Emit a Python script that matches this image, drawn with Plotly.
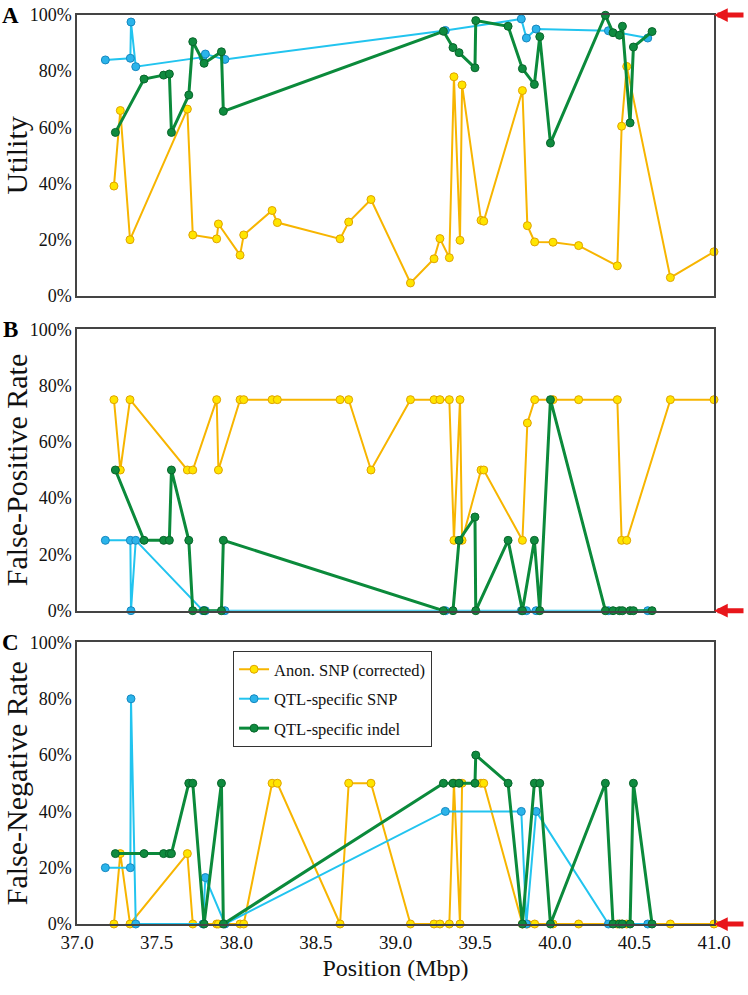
import plotly.graph_objects as go

# ---------------- data ----------------
anon_x = [37.232, 37.272, 37.333, 37.693, 37.727, 37.877, 37.888, 38.024, 38.047, 38.225,
          38.258, 38.652, 38.706, 38.846, 39.094, 39.242, 39.279, 39.338, 39.367, 39.405,
          39.418, 39.537, 39.554, 39.797, 39.828, 39.874, 39.989, 40.150, 40.393, 40.420,
          40.452, 40.726, 41.0]
anon_util = [39.1, 66, 20, 66.5, 21.7, 20.3, 25.6, 14.5, 21.7, 30.4,
             26.1, 20.3, 26.3, 34.3, 4.6, 13.2, 20.4, 13.6, 78, 19.8,
             75.1, 26.9, 26.6, 73.1, 25, 19.2, 19.1, 17.9, 10.7, 60.4,
             81.7, 6.5, 15.7]
anon_fpr = [75, 50, 75, 50, 50, 75, 50, 75, 75, 75,
            75, 75, 75, 50, 75, 75, 75, 75, 25, 75,
            25, 50, 50, 25, 66.7, 75, 75, 75, 75, 25,
            25, 75, 75]
anon_fnr = [0, 25, 0, 25, 0, 0, 0, 0, 0, 50,
            50, 0, 50, 50, 0, 0, 0, 0, 50, 0,
            50, 50, 50, 0, 0, 0, 0, 0, 0, 0,
            0, 0, 0]

snp_x = [37.178, 37.335, 37.339, 37.369, 37.791, 37.806, 37.929, 39.313, 39.790, 39.822,
         39.883, 40.337, 40.584]
snp_util = [84, 84.6, 97.5, 81.6, 85, 86.1, 84.2, 94.5, 98.6, 91.8, 95, 94.4, 91.8]
snp_fpr = [25, 25, 0, 25, 0, 0, 0, 0, 0, 0, 0, 0, 0]
snp_fnr = [20, 20, 80, 0, 0, 16.5, 0, 40, 40, 0, 40, 0, 0]

indel_x = [37.241, 37.421, 37.544, 37.580, 37.593, 37.702, 37.727, 37.798, 37.907, 37.919,
           39.301, 39.361, 39.399, 39.499, 39.504, 39.707, 39.797, 39.872, 39.906, 39.973,
           40.318, 40.366, 40.406, 40.425, 40.473, 40.494, 40.611]
indel_util = [58.2, 77.2, 78.6, 79, 58.2, 71.5, 90.5, 82.8, 86.9, 65.7,
              94.2, 88.4, 86.6, 81.2, 98, 96, 80.9, 75.3, 92.3, 54.4,
              99.9, 93.7, 92.8, 96, 61.6, 88.6, 94.1]
indel_fpr = [50, 25, 25, 25, 50, 25, 0, 0, 0, 25,
             0, 0, 25, 33.3, 0, 25, 0, 25, 0, 75,
             0, 0, 0, 0, 0, 0, 0]
indel_fnr = [25, 25, 25, 25, 25, 50, 50, 0, 50, 0,
             50, 50, 50, 50, 60, 50, 0, 50, 50, 0,
             50, 0, 0, 0, 0, 50, 0]

series_names = ["Anon. SNP (corrected)", "QTL-specific SNP", "QTL-specific indel"]
panel_titles = ["Utility", "False-Positive Rate", "False-Negative Rate"]
panel_letters = ["A", "B", "C"]
arrow_levels = [100, 0, 0]
x_ticks = [37.0, 37.5, 38.0, 38.5, 39.0, 39.5, 40.0, 40.5, 41.0]
y_ticks = [0, 20, 40, 60, 80, 100]

# ---------------- styling ----------------
SERIF = "Liberation Serif"
styles = [
    dict(line=dict(color="#F7B500", width=2),
         marker=dict(color="#FFE500", size=8, line=dict(color="#E0A300", width=1))),
    dict(line=dict(color="#22C4EF", width=2),
         marker=dict(color="#2BB4EA", size=8, line=dict(color="#1688C0", width=1))),
    dict(line=dict(color="#0B8A3B", width=3),
         marker=dict(color="#0F8B3F", size=8, line=dict(color="#08662B", width=1))),
]

xs = [anon_x, snp_x, indel_x]
panels = [
    [anon_util, snp_util, indel_util],
    [anon_fpr, snp_fpr, indel_fpr],
    [anon_fnr, snp_fnr, indel_fnr],
]

fig = go.Figure()
for p in range(3):
    ax_suffix = "" if p == 0 else str(p + 1)
    for s in range(3):
        fig.add_trace(go.Scatter(
            x=xs[s], y=panels[p][s], mode="lines+markers", name=series_names[s],
            xaxis="x" + ax_suffix, yaxis="y" + ax_suffix,
            line=styles[s]["line"], marker=styles[s]["marker"],
            legendgroup=series_names[s], showlegend=(p == 2),
            cliponaxis=False,
        ))

domains = [[0.691, 1.0], [0.3447, 0.6542], [0.0, 0.3097]]

axis_common = dict(showline=True, mirror=True, linecolor="#444444", linewidth=1.5,
                   showgrid=False, zeroline=False, ticks="", automargin=False)
layout = dict(
    template="none",
    width=748, height=995,
    margin=dict(l=77, r=34, t=15, b=71, autoexpand=False),
    paper_bgcolor="white", plot_bgcolor="white",
    font=dict(family=SERIF, color="#111111"),
    showlegend=True,
    legend=dict(
        x=0.245, y=0.3003, xanchor="left", yanchor="top",
        bgcolor="white", bordercolor="#333333", borderwidth=1,
        font=dict(family=SERIF, size=16.5, color="#111111"),
        itemwidth=30, traceorder="grouped", tracegroupgap=5,
    ),
)
for p in range(3):
    ax_suffix = "" if p == 0 else str(p + 1)
    xa = dict(axis_common, range=[37, 41], tickvals=x_ticks,
              ticktext=[f"{v:.1f}" for v in x_ticks],
              anchor="y" + ax_suffix, domain=[0, 1],
              showticklabels=(p == 2), tickfont=dict(family=SERIF, size=19))
    if p == 2:
        xa["title"] = dict(text="Position (Mbp)", font=dict(family=SERIF, size=24), standoff=8)
    ya = dict(axis_common, range=[0, 100], tickvals=y_ticks,
              ticktext=[f"{v}%" for v in y_ticks],
              anchor="x" + ax_suffix, domain=domains[p],
              tickfont=dict(family=SERIF, size=18),
              title=dict(text=panel_titles[p], font=dict(family=SERIF, size=30), standoff=4))
    layout["xaxis" + ax_suffix] = xa
    layout["yaxis" + ax_suffix] = ya

fig.update_layout(**layout)

annotations = []
for p in range(3):
    ax_suffix = "" if p == 0 else str(p + 1)
    annotations.append(dict(
        text=f"<b>{panel_letters[p]}</b>", xref="paper", x=-0.104, xanchor="center",
        yref=f"y{ax_suffix} domain", y=1, yanchor="middle", showarrow=False,
        font=dict(family=SERIF, size=23, color="#000000")))
    annotations.append(dict(
        text="", xref="x" + ax_suffix, yref="y" + ax_suffix, x=41, y=arrow_levels[p],
        ax=31, ay=0, axref="pixel", ayref="pixel", showarrow=True,
        arrowhead=2, arrowsize=0.55, arrowwidth=5, arrowcolor="#E8161B", standoff=0))
fig.update_layout(annotations=annotations)

fig.write_html("out.html", config={"displayModeBar": False},
               post_script="document.body.style.margin='0';document.body.style.overflow='hidden';")
